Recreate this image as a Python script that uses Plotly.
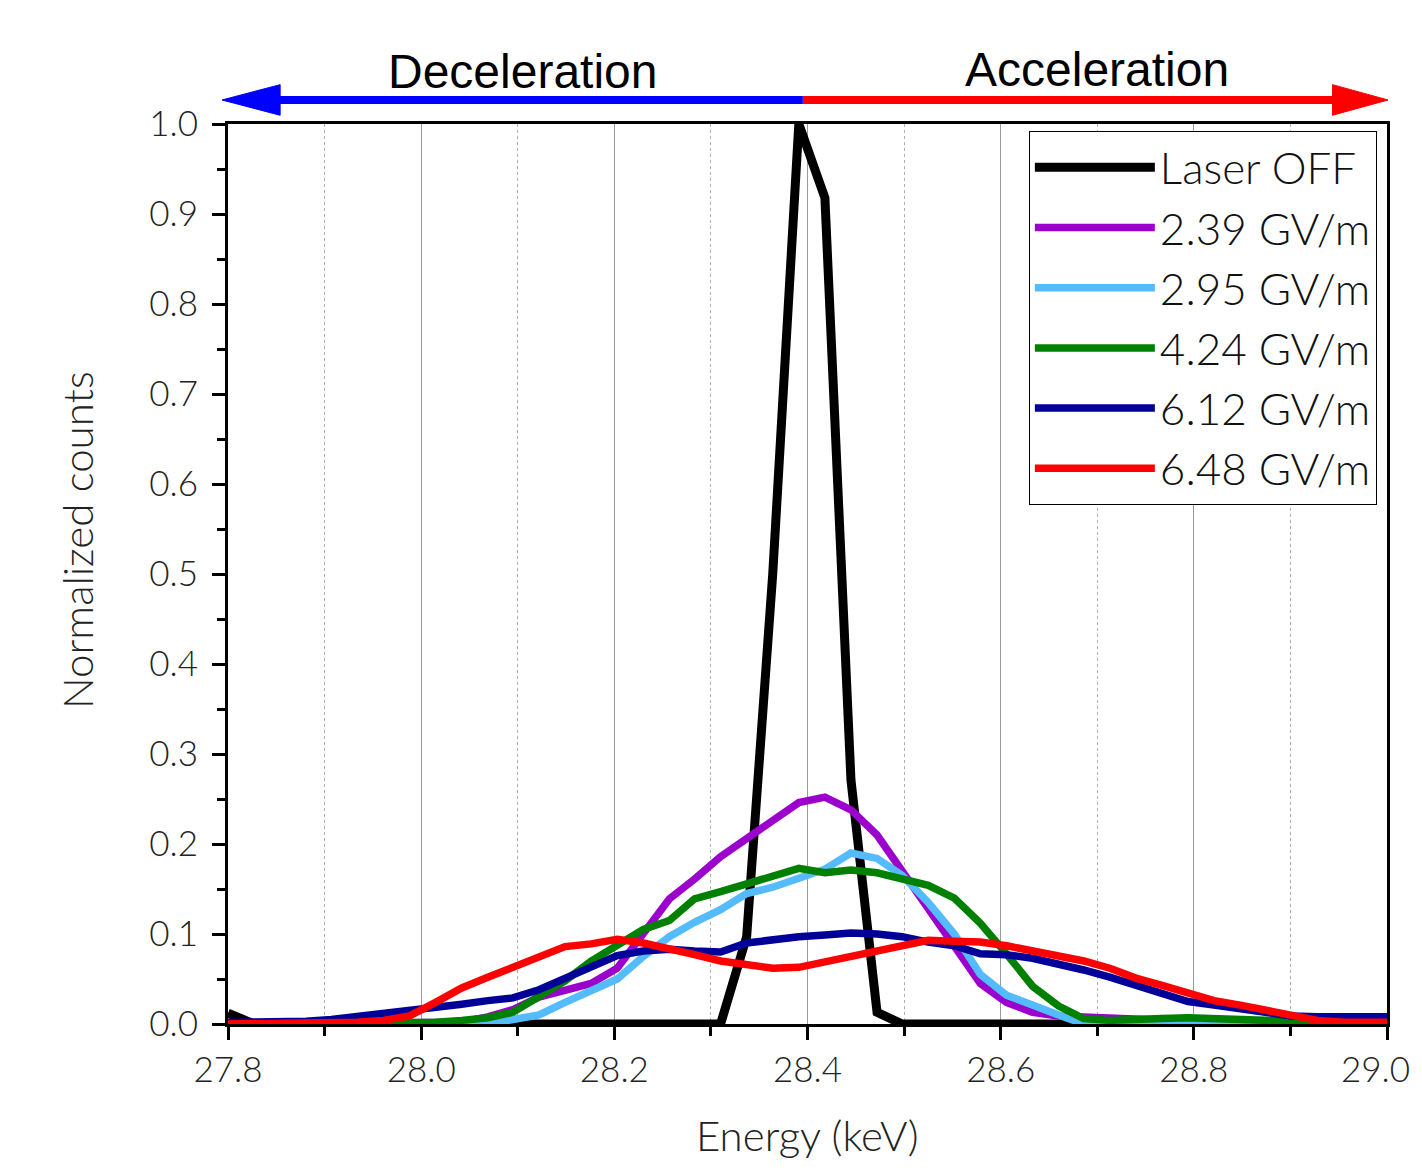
import plotly.graph_objects as go

energy = [27.800, 27.827, 27.854, 27.881, 27.907, 27.934, 27.961, 27.988, 28.015, 28.042,
          28.069, 28.095, 28.122, 28.149, 28.176, 28.203, 28.230, 28.257, 28.283, 28.310,
          28.337, 28.364, 28.391, 28.418, 28.445, 28.472, 28.498, 28.525, 28.552, 28.579,
          28.606, 28.633, 28.660, 28.686, 28.713, 28.740, 28.767, 28.794, 28.821, 28.848,
          28.874, 28.901, 28.928, 28.955, 28.982, 29.009]

laser_off = [0.012, 0, 0, 0, 0, 0, 0, 0, 0, 0,
             0, 0, 0, 0, 0, 0, 0, 0, 0, 0,
             0.097, 0.50, 1.0, 0.918, 0.271, 0.013, 0, 0, 0, 0,
             0, 0, 0, 0, 0, 0, 0, 0, 0, 0,
             0, 0, 0, 0, 0, 0]

f_239 = [0, 0, 0, 0, 0, 0, 0, 0, 0, 0.002,
         0.008, 0.016, 0.030, 0.037, 0.045, 0.062, 0.100, 0.139, 0.161, 0.186,
         0.206, 0.227, 0.246, 0.252, 0.238, 0.210, 0.170, 0.125, 0.085, 0.045,
         0.024, 0.013, 0.009, 0.008, 0.005, 0.004, 0.003, 0.003, 0.002, 0.002,
         0.002, 0.002, 0.002, 0.002, 0.002, 0.002]

f_295 = [0, 0, 0, 0, 0, 0, 0, 0, 0, 0,
         0, 0.005, 0.010, 0.024, 0.036, 0.050, 0.075, 0.097, 0.113, 0.127,
         0.145, 0.152, 0.162, 0.172, 0.190, 0.184, 0.165, 0.135, 0.100, 0.055,
         0.032, 0.022, 0.010, 0, 0, 0, 0, 0, 0, 0,
         0, 0, 0, 0, 0, 0]

f_424 = [0, 0, 0, 0, 0, 0, 0, 0, 0.002, 0.004,
         0.007, 0.013, 0.030, 0.048, 0.070, 0.088, 0.105, 0.115, 0.139, 0.147,
         0.156, 0.165, 0.173, 0.168, 0.171, 0.168, 0.162, 0.154, 0.140, 0.112,
         0.078, 0.042, 0.020, 0.006, 0.004, 0.004, 0.006, 0.007, 0.006, 0.004,
         0.002, 0.001, 0.001, 0.001, 0.001, 0.001]

f_612 = [0.002, 0.002, 0.002, 0.003, 0.005, 0.008, 0.011, 0.015, 0.019, 0.022,
         0.026, 0.029, 0.038, 0.050, 0.064, 0.076, 0.081, 0.083, 0.081, 0.080,
         0.090, 0.094, 0.097, 0.099, 0.101, 0.100, 0.097, 0.091, 0.087, 0.078,
         0.077, 0.073, 0.067, 0.060, 0.052, 0.043, 0.032, 0.025, 0.021, 0.017,
         0.013, 0.009, 0.008, 0.008, 0.008, 0.008]

f_648 = [0, 0, 0, 0, 0.001, 0.002, 0.004, 0.009, 0.024, 0.040,
         0.052, 0.063, 0.076, 0.086, 0.089, 0.094, 0.090, 0.084, 0.077, 0.070,
         0.065, 0.062, 0.063, 0.069, 0.076, 0.083, 0.088, 0.093, 0.092, 0.091,
         0.087, 0.081, 0.076, 0.070, 0.062, 0.051, 0.043, 0.035, 0.026, 0.021,
         0.016, 0.010, 0.004, 0.002, 0.002, 0.002]

series_names = ["Laser OFF", "2.39 GV/m", "2.95 GV/m", "4.24 GV/m", "6.12 GV/m", "6.48 GV/m"]
series_values = [laser_off, f_239, f_295, f_424, f_612, f_648]
series_colors = ["#000000", "#9B00CC", "#55BBFF", "#008000", "#000099", "#FF0000"]
series_widths = [9, 7.5, 7.5, 7.5, 7.5, 7.5]

x_ticks = [27.8, 28.0, 28.2, 28.4, 28.6, 28.8, 29.0]
x_tick_labels = ["27.8", "28.0", "28.2", "28.4", "28.6", "28.8", "29.0"]
y_ticks = [0.0, 0.1, 0.2, 0.3, 0.4, 0.5, 0.6, 0.7, 0.8, 0.9, 1.0]

FONT = "Lato"
W_LIGHT = 300
TICKFONT = dict(family=FONT, size=35, color="#222", weight=W_LIGHT)

fig = go.Figure()
for name, vals, col, w in zip(series_names, series_values, series_colors, series_widths):
    fig.add_trace(go.Scatter(x=energy, y=vals, mode="lines", name=name,
                             legendgroup=name,
                             line=dict(color=col, width=w)))

axis_common = dict(showline=True, linecolor="black", linewidth=3, mirror=True,
                   ticks="outside", ticklen=13, tickwidth=3, tickcolor="black",
                   tickfont=TICKFONT, zeroline=False, tickformat=".1f",
                   ticklabeloverflow="allow", automargin=False)

# last x label is placed separately (right-aligned) so it is not clipped at the page edge
fig.update_xaxes(range=[27.8, 29.0], tickvals=x_ticks,
                 ticktext=x_tick_labels[:-1] + [""], showgrid=True,
                 gridcolor="#9a9a9a", gridwidth=1,
                 minor=dict(dtick=0.1, tick0=27.8, ticks="outside", ticklen=9,
                            tickwidth=3, tickcolor="black", showgrid=True,
                            gridcolor="#b0b0b0", griddash="dot", gridwidth=1),
                 **axis_common)
fig.update_yaxes(range=[0, 1.0], tickvals=y_ticks, showgrid=False,
                 ticklabelstandoff=7,
                 minor=dict(dtick=0.05, tick0=0, ticks="outside", ticklen=8,
                            tickwidth=3, tickcolor="black", showgrid=False),
                 **axis_common)

fig.add_annotation(text=x_tick_labels[-1], xref="x", x=x_ticks[-1], yref="paper", y=-0.0490,
                   xanchor="right", yanchor="middle", xshift=25, showarrow=False,
                   font=TICKFONT)

# arrows above the plot (paper coordinates)
ya = 1.0267
fig.add_shape(type="line", xref="paper", yref="paper", x0=0.496, x1=0.035, y0=ya, y1=ya,
              line=dict(color="#0000FF", width=8))
fig.add_shape(type="path", xref="paper", yref="paper",
              path=f"M -0.0052,{ya} L 0.045,{ya+0.0170} L 0.045,{ya-0.0170} Z",
              fillcolor="#0000FF", line=dict(color="#0000FF", width=1))
fig.add_shape(type="line", xref="paper", yref="paper", x0=0.496, x1=0.96, y0=ya, y1=ya,
              line=dict(color="#FF0000", width=8))
fig.add_shape(type="path", xref="paper", yref="paper",
              path=f"M 1.0009,{ya} L 0.953,{ya+0.0170} L 0.953,{ya-0.0170} Z",
              fillcolor="#FF0000", line=dict(color="#FF0000", width=1))

fig.add_annotation(text="Deceleration", xref="paper", yref="paper", x=0.2537, y=1.0578,
                   xanchor="center", yanchor="middle",
                   showarrow=False, font=dict(family="Liberation Sans", size=48, color="black"))
fig.add_annotation(text="Acceleration", xref="paper", yref="paper", x=0.7498, y=1.060,
                   xanchor="center", yanchor="middle",
                   showarrow=False, font=dict(family="Liberation Sans", size=48, color="black"))

fig.add_annotation(text="Energy (keV)", xref="paper", yref="paper", x=0.5004, y=-0.1230,
                   xanchor="center", yanchor="middle",
                   showarrow=False, font=dict(family=FONT, size=42, color="#222", weight=W_LIGHT))
fig.add_annotation(text="Normalized counts", xref="paper", yref="paper", x=-0.1303, y=0.5378,
                   xanchor="center", yanchor="middle",
                   textangle=-90, showarrow=False,
                   font=dict(family=FONT, size=42, color="#222", weight=W_LIGHT))

# figure sized to fit inside the page's default 8px body margin (no scrollbars)
fig.update_layout(
    width=1406, height=1154,
    margin=dict(l=220, r=27, t=116, b=138),
    plot_bgcolor="white", paper_bgcolor="white",
    showlegend=True,
    legend=dict(x=0.691, y=0.992, xanchor="left", yanchor="top",
                bgcolor="white", bordercolor="black", borderwidth=1,
                font=dict(family=FONT, size=44, color="#111", weight=W_LIGHT),
                itemwidth=120, tracegroupgap=14, traceorder="normal"),
)

fig.write_html("out.html")
